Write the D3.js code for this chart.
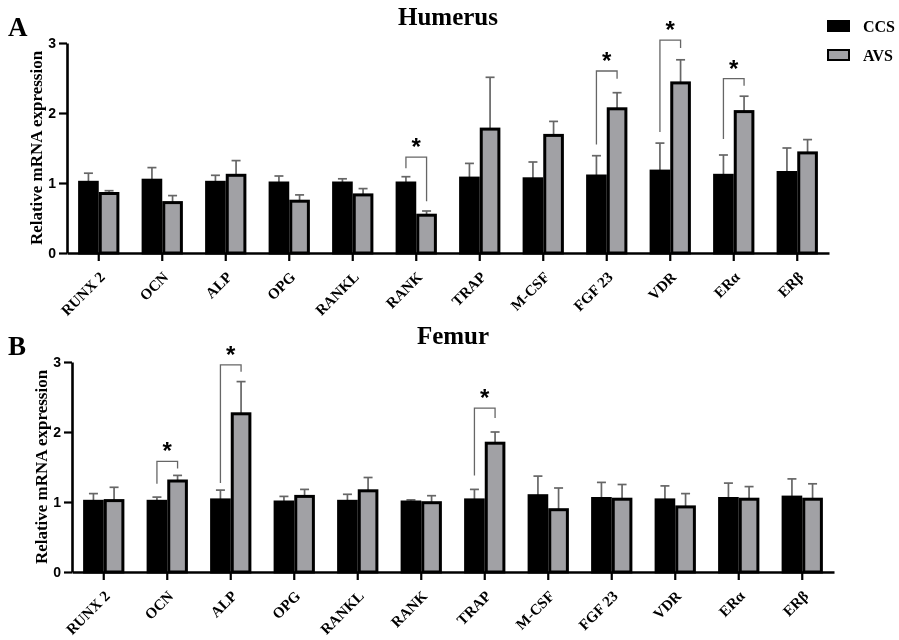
<!DOCTYPE html>
<html>
<head>
<meta charset="utf-8">
<script src="https://cdn.jsdelivr.net/npm/d3@7"></script>
<style>
  body { margin: 0; background: #fff; }
  svg { will-change: transform; }
</style>
</head>
<body>
<svg id="chart" width="899" height="640"></svg>
<script>
// ---------------------------------------------------------------------------
// DATA (sd = upward error bar length)
// ---------------------------------------------------------------------------
var genes = ["RUNX 2", "OCN", "ALP", "OPG", "RANKL", "RANK", "TRAP", "M-CSF", "FGF 23", "VDR", "ERα", "ERβ"];
var groups = ["CCS", "AVS"];
var yTicks = [0, 1, 2, 3];

var humerusCCS   = [1.01, 1.04, 1.01, 1.00, 1.00, 1.00, 1.07, 1.06, 1.10, 1.17, 1.11, 1.15];
var humerusCCSsd = [0.13, 0.18, 0.10, 0.10, 0.06, 0.09, 0.21, 0.24, 0.29, 0.40, 0.29, 0.35];
var humerusAVS   = [0.85, 0.72, 1.11, 0.74, 0.83, 0.54, 1.77, 1.68, 2.06, 2.43, 2.02, 1.43];
var humerusAVSsd = [0.04, 0.10, 0.21, 0.09, 0.09, 0.06, 0.74, 0.20, 0.23, 0.33, 0.22, 0.19];
// significance brackets: left leg bottom, right leg bottom, bracket top (data units)
var humerusSig = [
  { gene: "RANK",   left: 1.21, right: 0.74, top: 1.37 },
  { gene: "FGF 23", left: 1.55, right: 2.49, top: 2.60 },
  { gene: "VDR",    left: 1.73, right: 2.93, top: 3.04 },
  { gene: "ERα",    left: 1.63, right: 2.39, top: 2.49 }
];

var femurCCS   = [1.01, 1.01, 1.03, 1.00, 1.01, 1.00, 1.03, 1.09, 1.05, 1.03, 1.05, 1.07];
var femurCCSsd = [0.11, 0.06, 0.14, 0.08, 0.10, 0.03, 0.15, 0.28, 0.23, 0.20, 0.22, 0.26];
var femurAVS   = [1.02, 1.30, 2.26, 1.08, 1.16, 0.99, 1.84, 0.89, 1.04, 0.93, 1.04, 1.04];
var femurAVSsd = [0.19, 0.08, 0.46, 0.10, 0.19, 0.10, 0.16, 0.31, 0.21, 0.19, 0.18, 0.22];
var femurSig = [
  { gene: "OCN",  left: 1.26, right: 1.48, top: 1.58 },
  { gene: "ALP",  left: 1.27, right: 2.86, top: 2.96 },
  { gene: "TRAP", left: 1.38, right: 2.20, top: 2.34 }
];

// ---------------------------------------------------------------------------
// STYLE
// ---------------------------------------------------------------------------
var SERIF = "'Times New Roman', 'Liberation Serif', serif";
var SANS = "Arial, 'Liberation Sans', sans-serif";
var FILL = { CCS: "#000000", AVS: "#a1a1a5" };
var ERR_COLOR = "#666666";

var svg = d3.select("#chart");

function drawPanel(p) {
    var g = svg.append("g");
    var plotW = 762, plotH = 210;

    var x = d3.scaleBand().domain(genes)
        .range([p.left, p.left + plotW])
        .paddingInner(0.35).paddingOuter(0.175);
    var xs = d3.scaleBand().domain(groups).range([0, x.bandwidth()]);
    var y = d3.scaleLinear().domain([0, 3]).range([p.top + plotH, p.top]);

    var rows = [];
    genes.forEach(function(gene, i) {
        rows.push({ gene: gene, group: "CCS", mean: p.ccs[i], sd: p.ccsSd[i] });
        rows.push({ gene: gene, group: "AVS", mean: p.avs[i], sd: p.avsSd[i] });
    });
    function cx(d) { return x(d.gene) + xs(d.group) + xs.bandwidth() / 2; }

    // error bars (behind bars)
    var err = g.append("g").attr("stroke", ERR_COLOR).attr("stroke-width", 1.7);
    err.selectAll(".err").data(rows).enter().append("line")
        .attr("x1", cx).attr("x2", cx)
        .attr("y1", function(d) { return y(d.mean); })
        .attr("y2", function(d) { return y(d.mean + d.sd); });
    err.selectAll(".cap").data(rows).enter().append("line")
        .attr("x1", function(d) { return cx(d) - 4.5; })
        .attr("x2", function(d) { return cx(d) + 4.5; })
        .attr("y1", function(d) { return y(d.mean + d.sd); })
        .attr("y2", function(d) { return y(d.mean + d.sd); });

    // bars
    g.selectAll(".bar").data(rows).enter().append("rect")
        .attr("x", function(d) { return x(d.gene) + xs(d.group) + 1.5; })
        .attr("width", xs.bandwidth() - 3)
        .attr("y", function(d) { return y(d.mean); })
        .attr("height", function(d) { return y(0) - y(d.mean); })
        .attr("fill", function(d) { return FILL[d.group]; })
        .attr("stroke", "#000").attr("stroke-width", 3);

    // significance brackets
    var sig = g.append("g");
    p.sig.forEach(function(s) {
        var xl = x(s.gene) + xs("CCS") + xs.bandwidth() / 2;
        var xr = x(s.gene) + xs("AVS") + xs.bandwidth() / 2;
        sig.append("path")
            .attr("d", "M" + xl + "," + y(s.left) + "V" + y(s.top) + "H" + xr + "V" + y(s.right))
            .attr("fill", "none").attr("stroke", ERR_COLOR).attr("stroke-width", 1.3);
        sig.append("text")
            .attr("x", (xl + xr) / 2).attr("y", y(s.top) - 2)
            .attr("text-anchor", "middle")
            .attr("font-family", SANS).attr("font-weight", "bold").attr("font-size", 24)
            .text("*");
    });

    // y axis
    var yAxis = g.append("g").attr("transform", "translate(" + p.left + ",0)")
        .call(d3.axisLeft(y).tickValues(yTicks).tickFormat(d3.format("d")).tickSize(8).tickSizeOuter(0).tickPadding(3));
    yAxis.select(".domain").attr("stroke-width", 2.6);
    yAxis.selectAll(".tick line").attr("stroke-width", 2.2);
    yAxis.selectAll(".tick text")
        .attr("font-family", SANS).attr("font-weight", "bold").attr("font-size", 14).attr("fill", "#000");

    // x axis
    var xAxis = g.append("g").attr("transform", "translate(0," + y(0) + ")")
        .call(d3.axisBottom(x).tickSize(8).tickSizeOuter(0));
    xAxis.select(".domain").attr("stroke-width", 2.6);
    xAxis.selectAll(".tick line").attr("stroke-width", 2.2);
    xAxis.selectAll(".tick text")
        .attr("x", 0).attr("y", 0).attr("dy", 0)
        .attr("transform", "translate(7,25) rotate(-45)")
        .attr("text-anchor", "end")
        .attr("font-family", SERIF).attr("font-weight", "bold").attr("font-size", 15).attr("fill", "#000");

    // y label
    g.append("text")
        .attr("transform", "translate(" + (p.left - 25) + "," + (p.top + plotH / 2) + ") rotate(-90)")
        .attr("text-anchor", "middle")
        .attr("font-family", SERIF).attr("font-weight", "bold").attr("font-size", 17)
        .text("Relative mRNA expression");

    // title and panel letter
    g.append("text")
        .attr("x", p.left + plotW / 2).attr("y", p.top - 18)
        .attr("text-anchor", "middle")
        .attr("font-family", SERIF).attr("font-weight", "bold").attr("font-size", 25)
        .text(p.title);
    g.append("text")
        .attr("x", 8).attr("y", p.top - 7)
        .attr("font-family", SERIF).attr("font-weight", "bold").attr("font-size", 27)
        .text(p.letter);
}

drawPanel({ title: "Humerus", letter: "A", left: 67, top: 43,
    ccs: humerusCCS, ccsSd: humerusCCSsd, avs: humerusAVS, avsSd: humerusAVSsd, sig: humerusSig });
drawPanel({ title: "Femur", letter: "B", left: 72, top: 362,
    ccs: femurCCS, ccsSd: femurCCSsd, avs: femurAVS, avsSd: femurAVSsd, sig: femurSig });

// legend (top right)
var legend = svg.append("g").attr("transform", "translate(828,21)");
groups.forEach(function(name, i) {
    legend.append("rect")
        .attr("x", 0).attr("y", i * 29)
        .attr("width", 21).attr("height", 10)
        .attr("fill", FILL[name]).attr("stroke", "#000").attr("stroke-width", 2);
    legend.append("text")
        .attr("x", 35).attr("y", i * 29 + 11)
        .attr("font-family", SERIF).attr("font-weight", "bold").attr("font-size", 16)
        .text(name);
});
</script>
</body>
</html>
